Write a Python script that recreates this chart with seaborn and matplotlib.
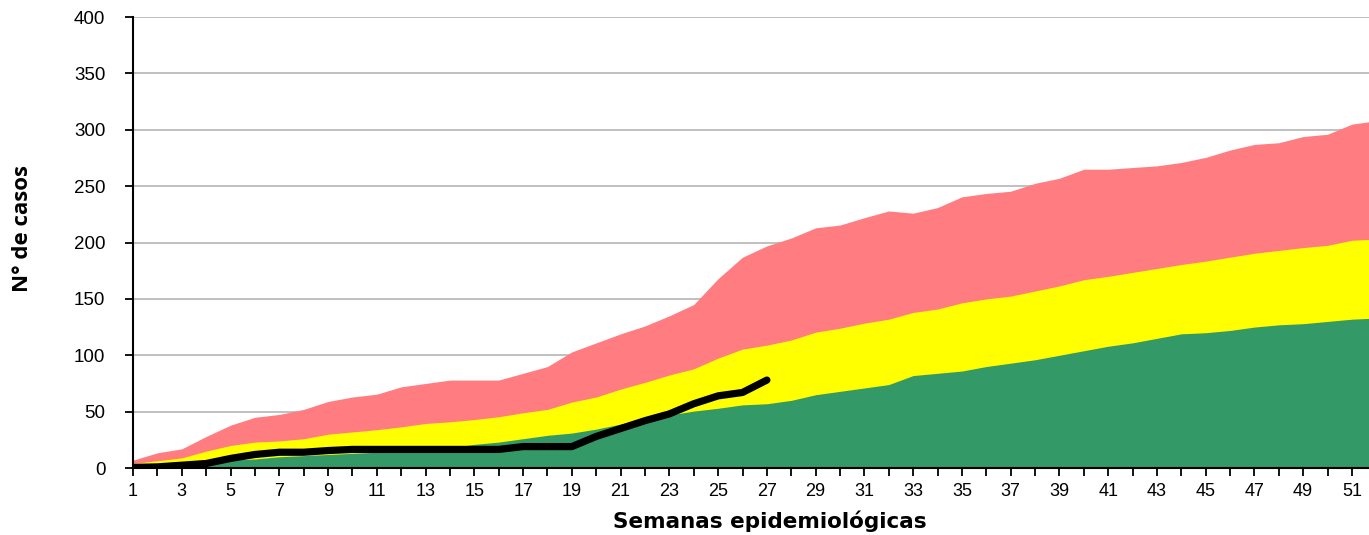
import numpy as np
import matplotlib
matplotlib.use("Agg")
import matplotlib.pyplot as plt
import seaborn as sns
from matplotlib.ticker import MultipleLocator

# Semanas epidemiológicas 1..52
semanas = list(range(1, 53))

# Límites del canal endémico (acumulado)
zona_exito = [0.5, 1, 2, 4, 7, 8, 10, 11, 12, 13, 14, 15, 16, 18, 21, 23, 26, 29, 31, 34.5,
              39, 43, 47, 50.5, 53, 56, 57, 60, 65, 68, 71, 74, 82, 84, 86, 90, 93, 96, 100, 104,
              108, 111, 115, 119, 120, 122, 125, 127, 128, 130, 132, 133]
zona_seguridad = [4, 6.5, 9, 15, 20, 23, 24, 26, 30, 32, 34, 36.5, 39.5, 41, 43, 45.5, 49, 52,
                  58.5, 63, 70, 76, 82.5, 88, 97.5, 105.5, 109, 113.5, 120.5, 124, 128.5, 132,
                  138, 141, 146.5, 150, 152.5, 157, 161.5, 167, 170, 173.5, 177, 180.5, 183.5,
                  187, 190.5, 193, 195.5, 197.5, 202, 203]
zona_alarma = [7, 13.5, 17, 28, 38, 45, 47.5, 52, 59, 63, 65.5, 72, 75, 78, 78, 78, 84, 90,
               103, 111, 119, 126, 135, 145, 168, 187, 197, 204, 213, 215.5, 222, 228, 226, 231,
               240.5, 243.5, 245.5, 252.5, 257, 265, 265, 266.5, 268, 271, 275.5, 282, 287,
               288.5, 294, 296, 305, 308]

# Casos acumulados del año en curso
casos = [0.5, 1, 2.5, 4, 8.5, 12, 14, 14, 15.5, 16.5, 16.5, 16.5, 16.5, 16.5, 16.5, 16.5,
         19, 19, 19, 28, 35, 42, 48, 57, 64, 67, 78]

sns.set_theme(style="white")
plt.rcParams['font.family'] = ['Liberation Sans', 'DejaVu Sans']

fig = plt.figure(figsize=(13.69, 5.35), dpi=100)
ax = fig.add_axes([0.0972, 0.1252, 0.9028, 0.843])

x = np.array(semanas)
ax.fill_between(x, 0, zona_alarma, color="#ff7c80", lw=0, zorder=1)
ax.fill_between(x, 0, zona_seguridad, color="#ffff00", lw=0, zorder=2)
ax.fill_between(x, 0, zona_exito, color="#339966", lw=0, zorder=3)

sns.lineplot(x=semanas[:len(casos)], y=casos, color="black", linewidth=5.2,
             solid_capstyle="round", ax=ax, zorder=5)

ax.set_xlim(1, 51.7)
ax.set_ylim(0, 400)
ax.xaxis.set_minor_locator(MultipleLocator(1))
ax.yaxis.set_major_locator(MultipleLocator(50))
ax.set_xticks(range(1, 52, 2))
ax.grid(axis="y", color="#c0c0c0", linewidth=1.4, zorder=0)
ax.set_axisbelow(True)

for s in ["top", "right"]:
    ax.spines[s].set_visible(False)
for s in ["left", "bottom"]:
    ax.spines[s].set_color("black")
    ax.spines[s].set_linewidth(1.5)
    ax.spines[s].set_zorder(6)

ax.tick_params(axis="both", which="both", direction="out", length=6, width=1.3,
               color="black", labelcolor="black")
ax.tick_params(axis="x", which="both", bottom=True, labelsize=13, pad=5)
ax.tick_params(axis="y", left=True, labelsize=13.5, pad=14)

ax.set_xlabel("Semanas epidemiológicas", fontsize=15.5, fontweight="bold",
              family=["DejaVu Sans"], color="black")
ax.xaxis.set_label_coords(0.515, -0.095)
ax.set_ylabel("N° de casos", fontsize=16, fontweight="bold",
              family=["Open Sans", "DejaVu Sans"], color="black")
ax.yaxis.set_label_coords(-0.081, 0.532)

fig.savefig("out.png", dpi=100, facecolor="white")
